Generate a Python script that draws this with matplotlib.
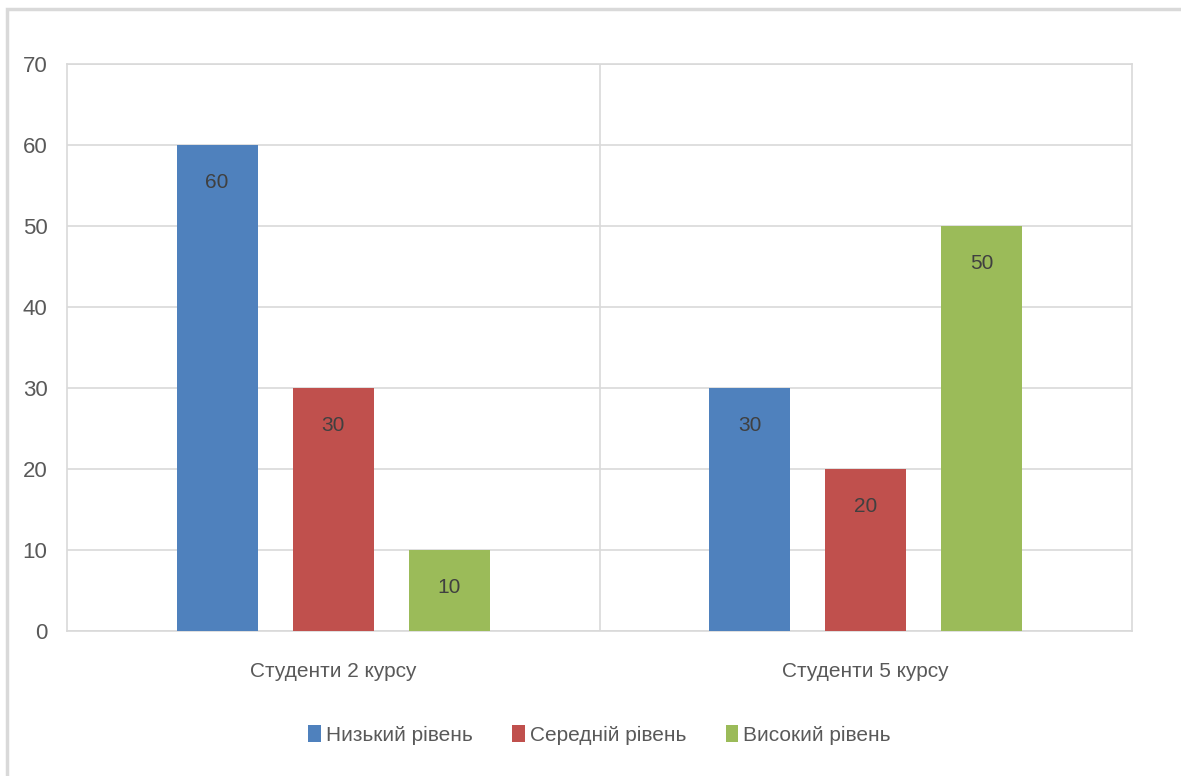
import numpy as np
import matplotlib.pyplot as plt
from matplotlib.patches import Rectangle
from matplotlib import font_manager

# Дані діаграми
groups = ['Студенти 2 курсу', 'Студенти 5 курсу']
levels = ['Низький рівень', 'Середній рівень', 'Високий рівень']
low = [60, 30]
mid = [30, 20]
high = [10, 50]
colors = ['#4f81bd', '#c0504d', '#9bbb59']

names = {f.name for f in font_manager.fontManager.ttflist}
fam = 'Liberation Sans Narrow' if 'Liberation Sans Narrow' in names else 'Liberation Sans'
plt.rcParams['font.family'] = [fam, 'DejaVu Sans']

fig = plt.figure(figsize=(11.81, 7.76), dpi=100)
ax = fig.add_axes([67 / 1181, 1 - 631 / 776, (1132 - 67) / 1181, (631 - 64) / 776])

# рамка навколо діаграми
fig.patches.append(Rectangle((7 / 1181, -0.1), 1.2, 1 - 9 / 776 + 0.1,
                             transform=fig.transFigure, fill=False,
                             edgecolor='#d9d9d9', linewidth=2.5))

x = np.arange(len(groups)) + 0.5
width = 0.152
step = 0.218
for i, (vals, c) in enumerate(zip([low, mid, high], colors)):
    pos = x + (i - 1) * step
    bars = ax.bar(pos, vals, width, color=c, label=levels[i], zorder=3)
    for b, v in zip(bars, vals):
        ax.text(b.get_x() + b.get_width() / 2, v - 4.6, str(v),
                ha='center', va='center', fontsize=15, color='#404040', zorder=4)

ax.set_xlim(0, 2)
ax.set_ylim(0, 70)
ax.set_yticks(range(0, 71, 10))
ax.set_xticks(x)
ax.set_xticklabels(groups, fontsize=15, color='#595959')
ax.tick_params(axis='y', labelsize=16, labelcolor='#595959', length=0, pad=14)
ax.tick_params(axis='x', length=0, pad=22)
ax.grid(axis='y', color='#d9d9d9', linewidth=1.2, zorder=0)
for xv in [1]:
    ax.axvline(xv, color='#d9d9d9', linewidth=1.2, zorder=0)
for s in ax.spines.values():
    s.set_color('#d9d9d9')
    s.set_linewidth(1.2)

ax.legend(loc='center', bbox_to_anchor=(0.5, -0.183), ncol=3, frameon=False,
          fontsize=15, labelcolor='#595959', handlelength=0.6, handleheight=0.9,
          handletextpad=0.25, columnspacing=1.9)

fig.savefig('out.png', dpi=100)
